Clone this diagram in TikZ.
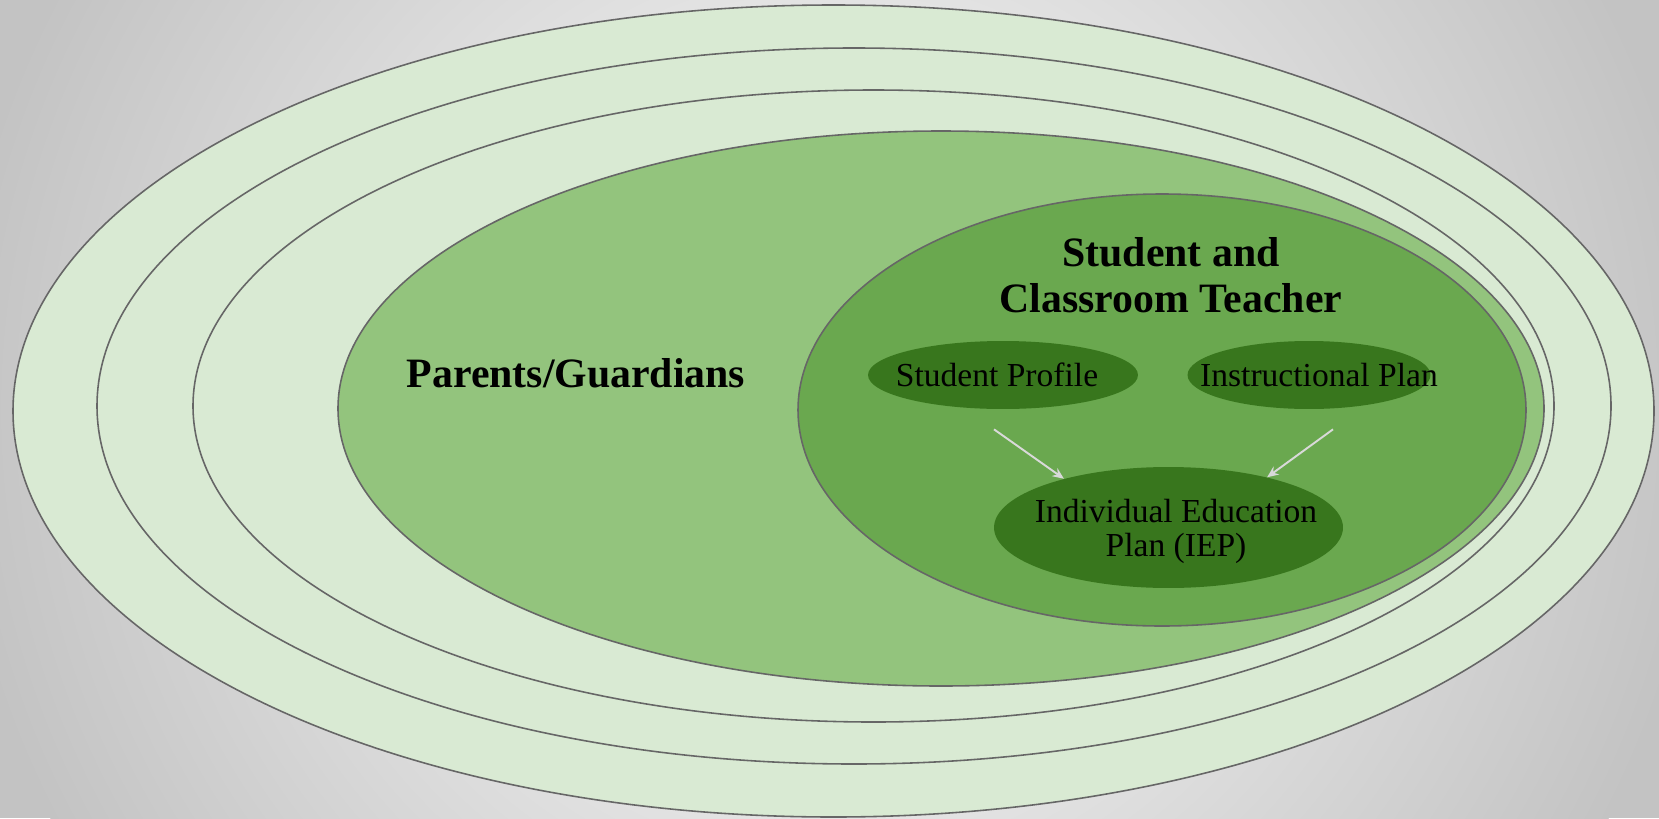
\documentclass[tikz,border=0pt]{standalone}
\usepackage{fontspec}
\setmainfont{Liberation Serif}
\usetikzlibrary{shapes.geometric,arrows.meta}

\definecolor{bglight}{HTML}{FFFFFF}
\definecolor{bgdark}{HTML}{C3C3C3}
\definecolor{palegreen}{HTML}{D9EAD3}
\definecolor{lightgreen}{HTML}{93C47D}
\definecolor{midgreen}{HTML}{6AA84F}
\definecolor{darkgreen}{HTML}{38761D}
\definecolor{ringgray}{HTML}{666666}
\definecolor{arrowgray}{HTML}{D9D9D9}

\begin{document}
\begin{tikzpicture}[x=0.02cm, y=-0.02cm,
    ring/.style={draw=ringgray, line width=0.9pt},
    bubble/.style={ellipse, fill=darkgreen, inner sep=0pt},
    heading/.style={font=\bfseries\fontsize{23.8}{26}\selectfont, align=center},
    itemtext/.style={font=\fontsize{19.1}{19.3}\selectfont, align=center},
    flow/.style={draw=arrowgray, line width=1.1pt, -{Stealth[length=6.5pt, width=5.5pt]}}]
    \useasboundingbox (0,0) rectangle (1659,818);
    % the grey backdrop
    \begin{scope}
        \clip (0,0) rectangle (1659,818);
        \fill[bgdark] (0,0) rectangle (1659,818);
        \shade[inner color=bglight, outer color=bgdark] (829.5,409) circle (880);
    \end{scope}

    % the circles of support, from the outside in
    \filldraw[ring, fill=palegreen] (833.5,411) ellipse (820.5 and 406);
    \filldraw[ring, fill=palegreen] (854,406) ellipse (757 and 358);
    \filldraw[ring, fill=palegreen] (873.5,406) ellipse (680.5 and 316);
    \filldraw[ring, fill=lightgreen] (941,408.5) ellipse (603 and 277.5);
    \filldraw[ring, fill=midgreen] (1162,410) ellipse (364 and 216);

    % the titles
    \node[heading, anchor=base] (parents) at (576,387) {Parents/Guardians};
    \node[heading] (team) at (1171,275) {Student and\\Classroom Teacher};

    % the three documents (text is set apart so the bubbles keep their size)
    \node[bubble, minimum width=5.4cm, minimum height=1.36cm] (profile) at (1003,375) {};
    \node[bubble, minimum width=4.86cm, minimum height=1.36cm] (plan) at (1309,375) {};
    \node[bubble, minimum width=6.98cm, minimum height=2.42cm] (iep) at (1168.5,527.5) {};

    \node[itemtext, anchor=base] (profiletext) at (997,386) {Student Profile};
    \node[itemtext, anchor=base] (plantext) at (1319,386) {Instructional Plan};
    \node[itemtext] (ieptext) at (1176,531) {Individual Education\\Plan (IEP)};

    % both feed into the IEP
    \draw[flow] ([xshift=-0.18cm, yshift=-0.4cm]profile.south) -- (iep.155);
    \draw[flow] ([xshift=0.48cm, yshift=-0.4cm]plan.south) -- (iep.27);
\end{tikzpicture}
\end{document}
